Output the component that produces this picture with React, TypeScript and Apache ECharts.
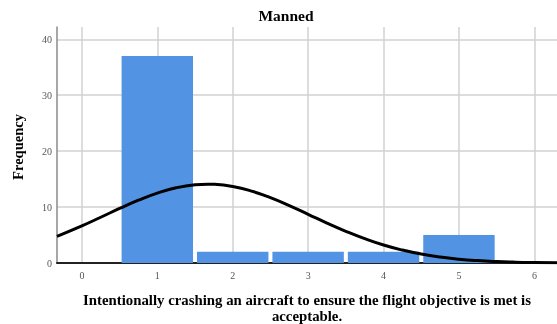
import React, { useEffect, useRef } from "react";
import * as echarts from "echarts";

const categories = [1, 2, 3, 4, 5];
const frequencies = [37, 2, 2, 2, 5];
const curveX = [-0.33, 0, 0.25, 0.5, 0.75, 1, 1.25, 1.5, 1.67, 1.75, 2, 2.25, 2.5, 2.75, 3, 3.25, 3.5, 3.75, 4, 4.25, 4.5, 4.75, 5, 5.25, 5.5, 5.75, 6, 6.3];
const curveY = [4.78, 6.64, 8.18, 9.75, 11.23, 12.5, 13.45, 13.99, 14.1, 14.07, 13.68, 12.86, 11.68, 10.26, 8.71, 7.14, 5.67, 4.35, 3.22, 2.31, 1.6, 1.07, 0.69, 0.43, 0.26, 0.15, 0.087, 0.04];
const title = "Manned";
const xTitleLines = ["Intentionally crashing an aircraft to ensure the flight objective is met is", "acceptable."];
const yTitle = "Frequency";

const SERIF = "'Liberation Serif', 'Times New Roman', serif";

export default function App() {
  const ref = useRef<HTMLDivElement>(null);
  useEffect(() => {
    if (!ref.current) return;
    const chart = echarts.init(ref.current, null, { renderer: "svg" });
    const barData = categories.map((c, i) => [c, frequencies[i]]);
    const lineData = curveX.map((x, i) => [x, curveY[i]]);
    chart.setOption({
      animation: false,
      graphic: [
        {
          type: "text",
          x: 286,
          y: 15.5,
          style: {
            text: title,
            font: `bold 15.5px ${SERIF}`,
            fill: "#000",
            textAlign: "center",
            textVerticalAlign: "middle",
          },
        },
        {
          type: "text",
          x: 307,
          y: 307.5,
          style: {
            text: xTitleLines.join("\n"),
            font: `bold 14.8px ${SERIF}`,
            lineHeight: 16,
            fill: "#000",
            textAlign: "center",
            textVerticalAlign: "middle",
          },
        },
        {
          type: "text",
          x: 18,
          y: 147,
          rotation: Math.PI / 2,
          style: {
            text: yTitle,
            font: `bold 14.5px ${SERIF}`,
            fill: "#000",
            textAlign: "center",
            textVerticalAlign: "middle",
          },
        },
      ],
      grid: { left: 57, right: 0, top: 27, bottom: 61, containLabel: false },
      xAxis: {
        type: "value",
        min: -0.33,
        max: 6.3,
        minInterval: 1,
        maxInterval: 1,
        axisLine: { show: true, onZero: false, lineStyle: { color: "#222", width: 2 } },
        axisTick: { show: false },
        axisLabel: {
          showMinLabel: false,
          showMaxLabel: false,
          color: "#555",
          fontFamily: SERIF,
          fontSize: 10,
          margin: 7,
        },
        splitLine: { show: true, showMinLine: false, showMaxLine: false, lineStyle: { color: "#d2d2d2", width: 1.5 } },
      },
      yAxis: {
        type: "value",
        min: 0,
        max: 42.2,
        interval: 10,
        axisLine: { show: true, onZero: false, lineStyle: { color: "#8a8a8a", width: 1.5 } },
        axisTick: { show: false },
        axisLabel: { showMaxLabel: false, color: "#555", fontFamily: SERIF, fontSize: 10, margin: 5 },
        splitLine: { show: true, showMinLine: false, showMaxLine: false, lineStyle: { color: "#d2d2d2", width: 1.5 } },
      },
      series: [
        {
          type: "custom",
          data: barData,
          renderItem: (params: any, api: any) => {
            const x = api.value(0);
            const y = api.value(1);
            const p0 = api.coord([x - 0.5, y]);
            const p1 = api.coord([x + 0.5, 0]);
            return {
              type: "rect",
              shape: { x: p0[0] + 2, y: p0[1], width: p1[0] - p0[0] - 4, height: p1[1] - p0[1] },
              style: { fill: "#5293e3" },
            };
          },
          z: 2,
        },
        {
          type: "line",
          data: lineData,
          smooth: true,
          symbol: "none",
          lineStyle: { color: "#000", width: 3 },
          z: 3,
        },
      ],
    });
    return () => chart.dispose();
  }, []);
  return <div ref={ref} style={{ position: "fixed", left: 0, top: 0, width: 557, height: 324 }} />;
}
